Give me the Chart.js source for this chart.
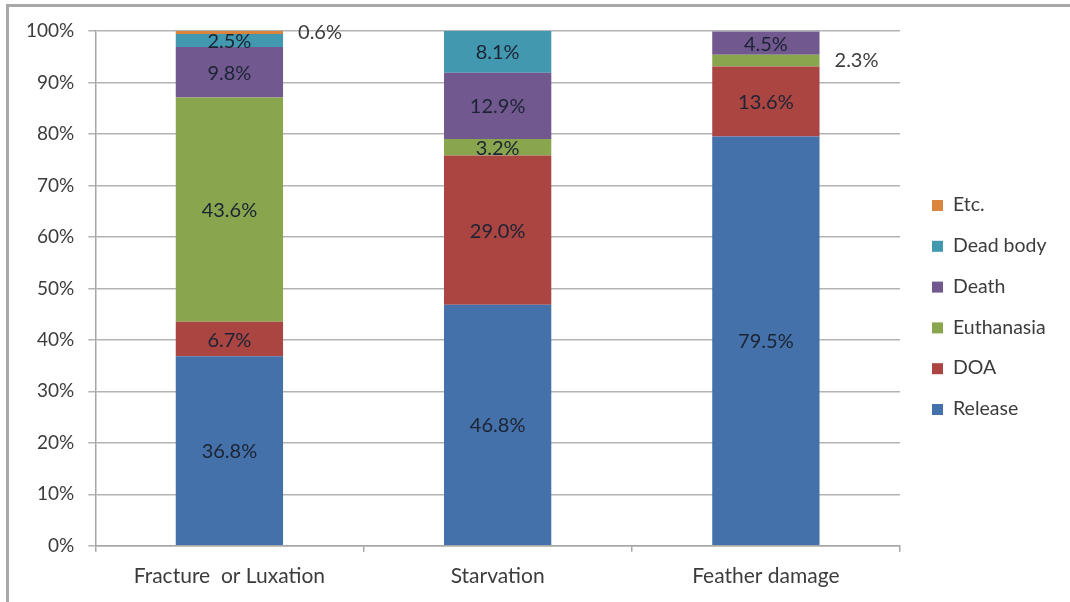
<!DOCTYPE html>
<html>
<head>
<meta charset="utf-8">
<script src="https://cdn.jsdelivr.net/npm/chart.js@4/dist/chart.umd.min.js"></script>
<style>
  html, body { margin: 0; padding: 0; background: #fff; }
  #box { position: absolute; left: 0; top: 0; width: 1070px; height: 602px; }
</style>
</head>
<body>
<div id="box"><canvas id="outcomeChart" width="1070" height="602"></canvas></div>
<script>
// Categories and outcome shares (%)
const causes = ['Fracture  or Luxation', 'Starvation', 'Feather damage'];
const outcomes = ['Release', 'DOA', 'Euthanasia', 'Death', 'Dead body', 'Etc.'];

const release    = [36.8, 46.8, 79.5];
const doa        = [6.7, 29.0, 13.6];
const euthanasia = [43.6, 3.2, 2.3];
const death      = [9.8, 12.9, 4.5];
const deadBody   = [2.5, 8.1, 0];
const etc        = [0.6, 0, 0];

const yTicks = [0, 10, 20, 30, 40, 50, 60, 70, 80, 90, 100];

const seriesValues = [release, doa, euthanasia, death, deadBody, etc];
const seriesColors = ['#4471a9', '#aa4542', '#89a64e', '#71588f', '#4298ae', '#db843d'];

const FONT = 'Lato, "Open Sans", sans-serif';
const TEXT = '#3c3c3c';

// Segments thinner than this get their label to the right of the bar
const OUTSIDE_LIMIT = 2.4;

const segmentLabels = {
    id: 'segmentLabels',
    afterDatasetsDraw(chart) {
        const ctx = chart.ctx;
        ctx.save();
        ctx.font = '20px ' + FONT;
        ctx.textBaseline = 'middle';
        chart.data.datasets.forEach((ds, i) => {
            const meta = chart.getDatasetMeta(i);
            meta.data.forEach((bar, j) => {
                const v = ds.data[j];
                if (!v) return;
                const p = bar.getProps(['x', 'y', 'base', 'width'], true);
                const cy = (p.y + p.base) / 2;
                const txt = v.toFixed(1) + '%';
                if (v < OUTSIDE_LIMIT) {
                    ctx.fillStyle = TEXT;
                    ctx.textAlign = 'left';
                    ctx.fillText(txt, p.x + p.width / 2 + 15, cy);
                } else {
                    ctx.fillStyle = '#1c2333';
                    ctx.textAlign = 'center';
                    ctx.fillText(txt, p.x, cy + 1);
                }
            });
        });
        ctx.restore();
    }
};

// Frame, legend on the right
const frameAndLegend = {
    id: 'frameAndLegend',
    beforeDraw(chart) {
        const ctx = chart.ctx;
        ctx.save();
        ctx.fillStyle = '#fff';
        ctx.fillRect(0, 0, chart.width, chart.height);
        ctx.strokeStyle = '#a8a8a8';
        ctx.lineWidth = 3;
        ctx.beginPath();
        ctx.moveTo(7.5, chart.height);
        ctx.lineTo(7.5, 5.5);
        ctx.lineTo(chart.width, 5.5);
        ctx.stroke();
        ctx.restore();
    },
    afterDraw(chart) {
        const ctx = chart.ctx;
        ctx.save();
        ctx.font = '19.5px ' + FONT;
        ctx.textBaseline = 'middle';
        ctx.textAlign = 'left';
        const n = chart.data.datasets.length;
        for (let k = 0; k < n; k++) {
            const ds = chart.data.datasets[n - 1 - k];
            const y = 205 + k * 40.8;
            ctx.fillStyle = ds.backgroundColor;
            ctx.fillRect(932, y - 5, 11, 11);
            ctx.fillStyle = TEXT;
            ctx.fillText(ds.label, 953, y);
        }
        ctx.restore();
    }
};

new Chart(document.getElementById('outcomeChart').getContext('2d'), {
    type: 'bar',
    data: {
        labels: causes,
        datasets: outcomes.map((name, i) => ({
            label: name,
            data: seriesValues[i],
            backgroundColor: seriesColors[i],
            borderWidth: 0,
            categoryPercentage: 1,
            barPercentage: 0.4
        }))
    },
    options: {
        responsive: false,
        animation: false,
        layout: { padding: { left: 12, right: 170, top: 31, bottom: 1 } },
        plugins: {
            legend: { display: false },
            tooltip: { enabled: false }
        },
        scales: {
            x: {
                stacked: true,
                grid: {
                    drawOnChartArea: false,
                    drawTicks: true,
                    tickLength: 6,
                    color: '#a6a6a6',
                    lineWidth: 1.5
                },
                border: { color: '#a6a6a6', width: 1.5 },
                ticks: {
                    color: TEXT,
                    font: { family: FONT, size: 21 },
                    padding: 12
                }
            },
            y: {
                stacked: true,
                min: 0,
                max: 100,
                afterBuildTicks(axis) {
                    axis.ticks = yTicks.map(v => ({ value: v }));
                },
                grid: {
                    color: '#b3b3b3',
                    lineWidth: 1.5,
                    tickLength: 7
                },
                border: { color: '#a6a6a6', width: 1.5 },
                ticks: {
                    color: TEXT,
                    font: { family: FONT, size: 19 },
                    padding: 14,
                    callback: v => v + '%'
                }
            }
        }
    },
    plugins: [frameAndLegend, segmentLabels]
});
</script>
</body>
</html>
